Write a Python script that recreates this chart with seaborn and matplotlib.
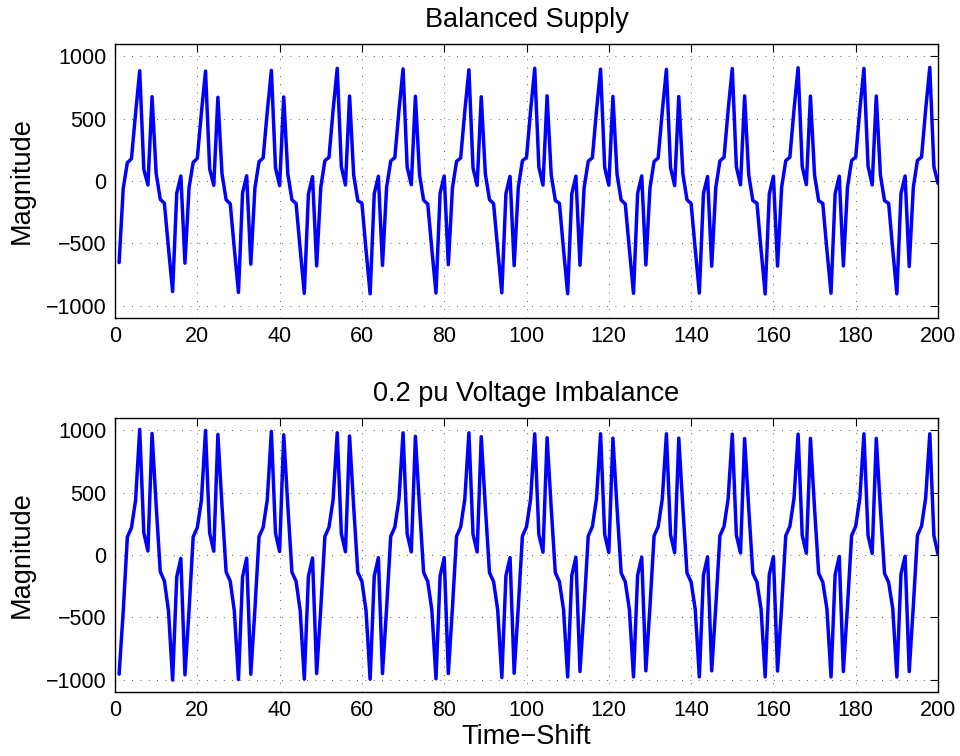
import matplotlib
matplotlib.use("Agg")
import matplotlib.pyplot as plt
import seaborn as sns
import pandas as pd
import numpy as np

# ---- data ----
time_shift = list(range(1, 201))

balanced_supply = [
    -655, -59, 147, 179, 543, 885, 94, -32, 677, 62, -147, -179, -540, -888, -99, 40,
    -660, -52, 150, 182, 550, 882, 98, -35, 672, 58, -150, -183, -545, -895, -95, 42,
    -668, -55, 155, 185, 556, 888, 105, -38, 675, 55, -152, -180, -548, -902, -104, 35,
    -682, -51, 163, 190, 570, 904, 115, -32, 682, 48, -158, -179, -553, -906, -102, 38,
    -678, -50, 160, 188, 565, 900, 110, -30, 680, 52, -155, -185, -550, -900, -98, 40,
    -672, -56, 158, 184, 560, 893, 104, -36, 676, 56, -150, -182, -546, -898, -100, 37,
    -680, -53, 162, 189, 568, 905, 112, -33, 684, 50, -156, -180, -552, -905, -103, 39,
    -676, -54, 159, 186, 562, 898, 108, -34, 679, 54, -153, -184, -549, -902, -99, 41,
    -674, -57, 157, 185, 561, 896, 106, -37, 678, 57, -151, -181, -547, -900, -101, 36,
    -684, -52, 161, 190, 569, 903, 113, -31, 683, 49, -157, -178, -554, -907, -104, 38,
    -683, -50, 163, 191, 571, 909, 116, -30, 682, 47, -159, -180, -555, -901, -102, 39,
    -682, -51, 164, 192, 572, 904, 118, -32, 682, 48, -158, -179, -553, -906, -100, 40,
    -687, -50, 165, 193, 575, 912, 115, -20,
]

voltage_imbalance = [
    -957, -450, 144, 219, 438, 1008, 179, 32, 976, 400, -134, -208, -449, -1005, -176, -27,
    -962, -440, 146, 220, 440, 1000, 176, 30, 968, 395, -136, -210, -450, -1000, -174, -25,
    -958, -435, 147, 222, 442, 992, 174, 28, 965, 392, -138, -211, -447, -997, -172, -24,
    -952, -430, 148, 223, 444, 981, 172, 26, 955, 388, -140, -212, -445, -997, -170, -22,
    -952, -428, 149, 224, 446, 981, 170, 25, 952, 385, -141, -213, -444, -994, -168, -21,
    -952, -425, 150, 225, 447, 981, 168, 24, 950, 383, -142, -214, -442, -984, -166, -20,
    -950, -420, 151, 226, 449, 973, 166, 22, 941, 380, -143, -215, -440, -979, -164, -18,
    -936, -418, 152, 227, 450, 973, 164, 20, 938, 378, -144, -216, -438, -979, -162, -17,
    -930, -415, 153, 228, 452, 973, 162, 18, 938, 376, -145, -217, -436, -979, -160, -15,
    -930, -412, 154, 229, 453, 970, 160, 16, 935, 374, -146, -218, -434, -979, -158, -14,
    -932, -410, 155, 230, 455, 970, 158, 14, 936, 372, -147, -219, -432, -979, -156, -12,
    -936, -410, 156, 231, 456, 973, 156, 12, 936, 370, -148, -220, -430, -979, -154, -10,
    -936, -408, 157, 232, 458, 973, 155, 5,
]

titles = ["Balanced Supply", "0.2 pu Voltage Imbalance"]
x_ticks = list(range(0, 201, 20))
y_ticks = [-1000, -500, 0, 500, 1000]
y_label = "Magnitude"
x_label = "Time\u2212Shift"

# ---- style ----
sns.set_theme(style="white")
plt.rcParams["font.family"] = ["Liberation Sans", "DejaVu Sans"]
plt.rcParams["axes.unicode_minus"] = True
plt.rcParams["text.color"] = "black"
plt.rcParams["axes.labelcolor"] = "black"
plt.rcParams["xtick.color"] = "black"
plt.rcParams["ytick.color"] = "black"

fig = plt.figure(figsize=(9.6, 7.56), dpi=100)
ax_top = fig.add_axes([0.1198, 0.5794, 0.8573, 0.3624])
ax_bot = fig.add_axes([0.1198, 0.0847, 0.8573, 0.3624])

for ax, series, title in [(ax_top, balanced_supply, titles[0]),
                          (ax_bot, voltage_imbalance, titles[1])]:
    df = pd.DataFrame({"x": time_shift, "y": series})
    sns.lineplot(data=df, x="x", y="y", ax=ax, color="#0000ff",
                 linewidth=2.5, estimator=None, sort=False)
    ax.set_xlim(0, 200)
    ax.set_ylim(-1100, 1100)
    ax.set_xticks(x_ticks)
    ax.set_yticks(y_ticks)
    ax.grid(True, color="black", linestyle=(0, (1, 9)), linewidth=0.6, alpha=0.85)
    ax.tick_params(direction="in", length=6, width=0.8, top=True, right=True,
                   labelsize=15.5, colors="black", labelcolor="black", pad=6)
    for sp in ax.spines.values():
        sp.set_visible(True)
        sp.set_color("black")
        sp.set_linewidth(1.0)
    ax.set_title(title, fontsize=19.5, pad=12, color="black")
    ax.set_ylabel(y_label, fontsize=19.5, labelpad=8, color="black")
    ax.set_xlabel("")
    ax.set_facecolor("white")

ax_bot.set_xlabel(x_label, fontsize=19.5, labelpad=2, color="black")

fig.savefig("out.png", dpi=100, facecolor="white")
